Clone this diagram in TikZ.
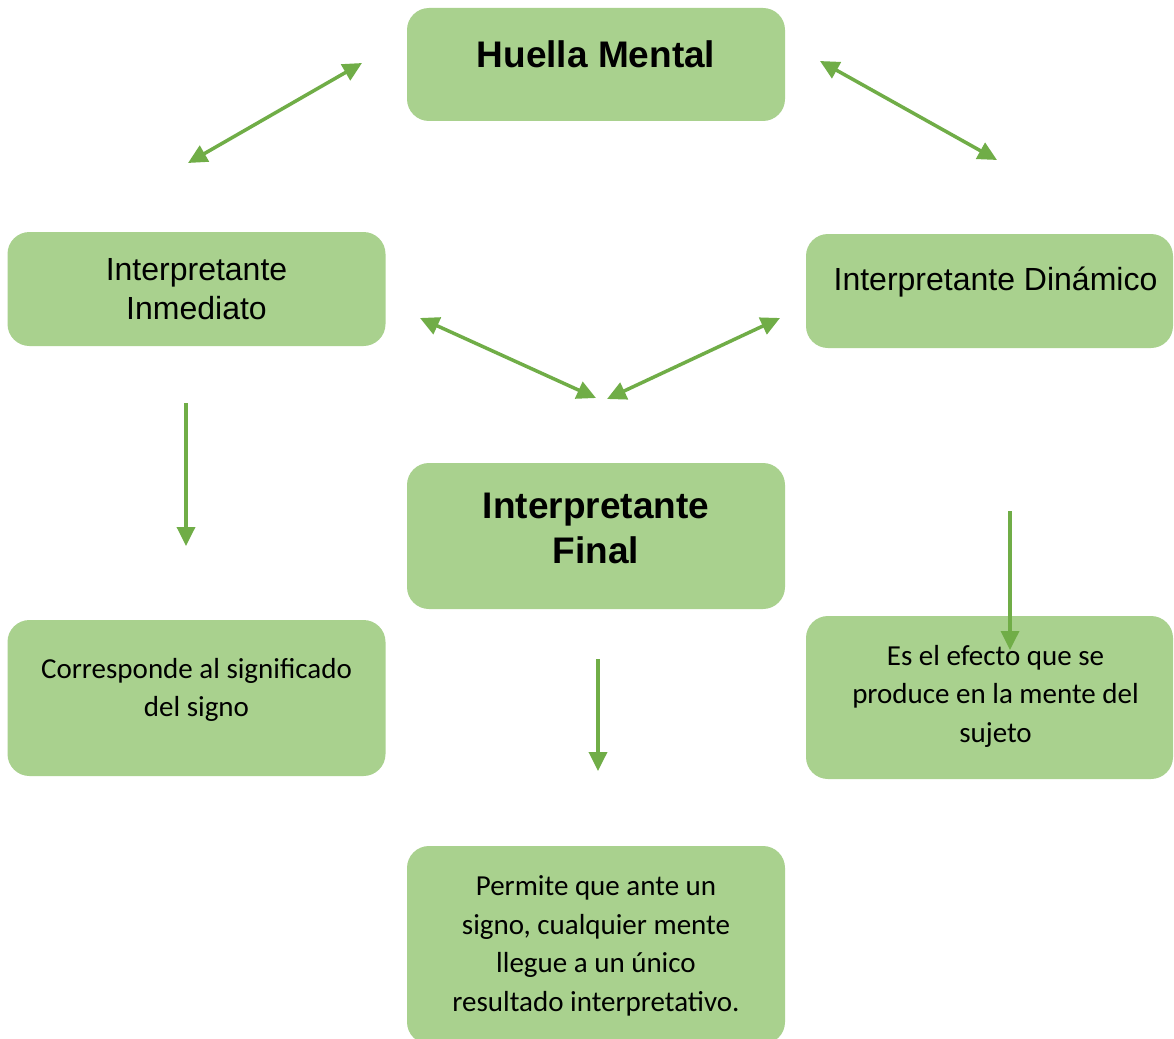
\documentclass[tikz,border=0pt]{standalone}
\usepackage{fontspec}
\setmainfont{Liberation Sans}
\newfontfamily\calibri{Carlito}
\usepackage{tikz}
\usetikzlibrary{arrows.meta}
\definecolor{verdeclaro}{RGB}{169, 209, 142}
\definecolor{verdeflecha}{RGB}{112, 173, 71}

\tikzset{
    caja/.style={fill=verdeclaro, rounded corners=22pt, minimum width=378pt},
    titulo/.style={font=\fontsize{37}{45}\selectfont\bfseries, align=center},
    subtitulo/.style={font=\fontsize{32}{39}\selectfont, align=center},
    texto/.style={font=\calibri\fontsize{29}{38.5}\selectfont, align=center},
    flecha/.style={draw=verdeflecha, line width=3.5pt,
        arrows={-Triangle[length=19pt, width=18pt]}},
    dobleflecha/.style={flecha, arrows={Triangle[length=19pt, width=18pt]-Triangle[length=19pt, width=18pt]}}
}

\begin{document}
\begin{tikzpicture}[x=1pt, y=-1pt]
    \clip (0,0) rectangle (1174,1038);
    \fill[white] (0,0) rectangle (1174,1038);

    % cajas
    \node[caja, minimum height=113pt] (huella) at (596,64.5) {};
    \node[caja, minimum height=114pt] (inmediato) at (196.5,289) {};
    \node[caja, minimum height=114pt, minimum width=367pt] (dinamico) at (989.5,291) {};
    \node[caja, minimum height=146pt] (final) at (596,536) {};
    \node[caja, minimum height=156pt] (corresponde) at (196.5,698) {};
    \node[caja, minimum height=163pt, minimum width=367pt] (efecto) at (989.5,697.5) {};
    \node[caja, minimum height=198pt] (permite) at (596,945) {};

    % textos
    \node[titulo] (huella-txt) at (596,54) {Huella Mental};
    \node[subtitulo] (inmediato-txt) at (196.5,289) {Interpretante\\Inmediato};
    \node[subtitulo] (dinamico-txt) at (995.5,282) {Interpretante Dinámico};
    \node[titulo] (final-txt) at (596,528) {Interpretante\\Final};
    \node[texto] (corresponde-txt) at (196.5,690) {Corresponde al significado\\del signo};
    \node[texto] (efecto-txt) at (995.5,696) {Es el efecto que se\\produce en la mente del\\sujeto};
    \node[texto] (permite-txt) at (596,946) {Permite que ante un\\signo, cualquier mente\\llegue a un único\\resultado interpretativo.};

    % extremos de las flechas
    \coordinate (a1) at (188,163);  \coordinate (b1) at (362,63);
    \coordinate (a2) at (820,61);   \coordinate (b2) at (997,160);
    \coordinate (a3) at (420,318);  \coordinate (b3) at (596,398);
    \coordinate (a4) at (780,318);  \coordinate (b4) at (607,399);
    \coordinate (a5) at (186,403);  \coordinate (b5) at (186,546);
    \coordinate (a6) at (598,659);  \coordinate (b6) at (598,771);
    \coordinate (a7) at (1010,511); \coordinate (b7) at (1010,650);

    \foreach \i in {1,...,4} {
        \draw[dobleflecha] (a\i) -- (b\i);
    }
    \foreach \i in {5,6,7} {
        \draw[flecha] (a\i) -- (b\i);
    }
\end{tikzpicture}
\end{document}
